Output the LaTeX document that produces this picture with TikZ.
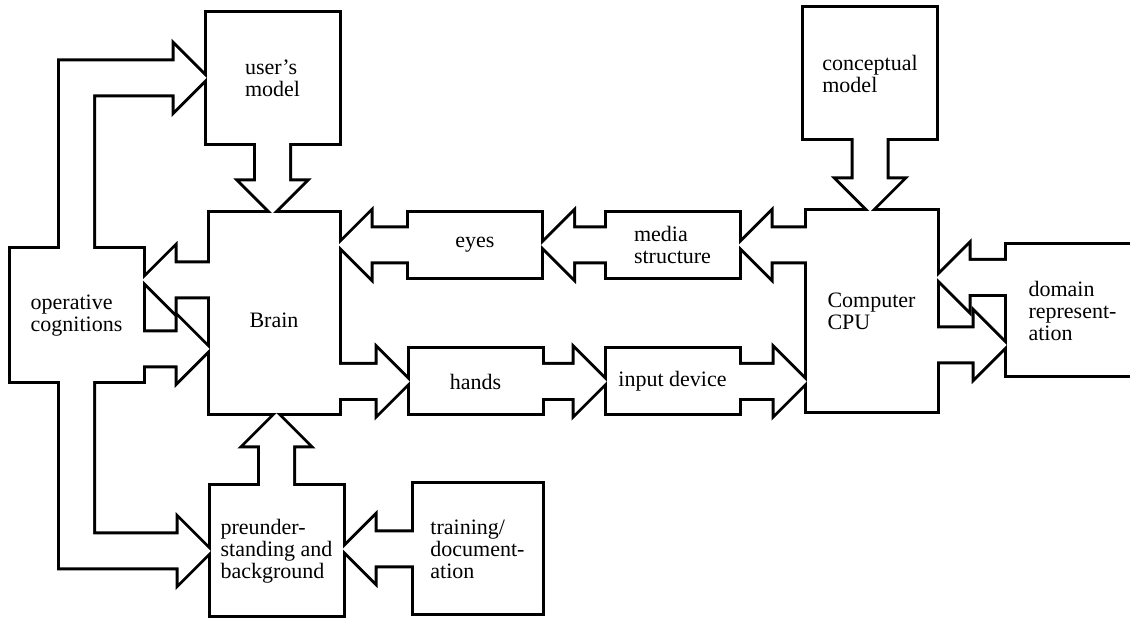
\documentclass[tikz,border=0pt]{standalone}
\usepackage{fontspec}
\setmainfont{Liberation Serif}
\usetikzlibrary{calc,backgrounds}

\newcommand\shaftw{8.25pt} % half width of a shaft
\newcommand\headw{16pt}    % half width of a head
\newcommand\headl{16pt}    % length of a head

% block arrows: tail, tip (the tail reaches a little into its box)
\newcommand\harrow[2]{let \p1=#1, \p2=#2, \p3=($#2!\headl!#1$), \p4=($#1!-2pt!#2$) in
  (\x4,\y1+\shaftw) -- (\x3,\y1+\shaftw) -- (\x3,\y1+\headw) -- (\x2,\y1)
  -- (\x3,\y1-\headw) -- (\x3,\y1-\shaftw) -- (\x4,\y1-\shaftw) -- cycle}
\newcommand\varrow[2]{let \p1=#1, \p2=#2, \p3=($#2!\headl!#1$), \p4=($#1!-2pt!#2$) in
  (\x1+\shaftw,\y4) -- (\x1+\shaftw,\y3) -- (\x1+\headw,\y3) -- (\x1,\y2)
  -- (\x1-\headw,\y3) -- (\x1-\shaftw,\y3) -- (\x1-\shaftw,\y4) -- cycle}

% every box and arrow, drawn twice so the outline is the union
\newcommand\allparts[1]{%
  \foreach \b in {user,concept,ops,brain,eyes,media,cpu,domain,hands,input,preund,training}
    \path[#1] (\b.north west) rectangle (\b.south east);
  \path[#1] \varrow{(user.south)}{(user.south |- brain.north)};
  \path[#1] \varrow{(concept.south)}{(concept.south |- cpu.north)};
  \path[#1] \varrow{(preund.north)}{(preund.north |- brain.south)};
  \path[#1] \harrow{(training.west)}{(training.west -| preund.east)};
  \path[#1] \harrow{(eyes.west)}{(eyes.west -| brain.east)};
  \path[#1] \harrow{(media.west)}{(eyes.east)};
  \path[#1] \harrow{(media.east -| cpu.west)}{(media.east)};
  \path[#1] \harrow{(brain.east |- hands.west)}{(hands.west)};
  \path[#1] \harrow{(hands.east)}{(input.west)};
  \path[#1] \harrow{(input.east)}{(input.east -| cpu.west)};
  \path[#1] \harrow{(bo)}{(bo -| ops.east)};
  \path[#1] \harrow{(ob -| ops.east)}{(ob)};
  \path[#1] \harrow{(dc)}{(dc -| cpu.east)};
  \path[#1] \harrow{(cd -| cpu.east)}{(cd)};
  % bent arrows out of the operative cognitions
  \path[#1] let \p1=(user.west), \p2=(ops.north) in
    (\x2-\shaftw,\y2-2pt) -- (\x2-\shaftw,\y1+\shaftw) -- (\x1-\headl,\y1+\shaftw)
    -- (\x1-\headl,\y1+\headw) -- (\x1,\y1) -- (\x1-\headl,\y1-\headw)
    -- (\x1-\headl,\y1-\shaftw) -- (\x2+\shaftw,\y1-\shaftw) -- (\x2+\shaftw,\y2-2pt) -- cycle;
  \path[#1] let \p1=(preund.west), \p2=(ops.south) in
    (\x2-\shaftw,\y2+2pt) -- (\x2-\shaftw,\y1-\shaftw) -- (\x1-\headl,\y1-\shaftw)
    -- (\x1-\headl,\y1-\headw) -- (\x1,\y1) -- (\x1-\headl,\y1+\headw)
    -- (\x1-\headl,\y1+\shaftw) -- (\x2+\shaftw,\y1+\shaftw) -- (\x2+\shaftw,\y2+2pt) -- cycle;
}

\begin{document}
\begin{tikzpicture}[x=0.5pt, y=-0.5pt,
  box/.style={inner sep=0pt, outer sep=0pt, align=left,
    minimum width=66pt, minimum height=65pt,
    font=\fontsize{11}{11}\selectfont},
  wide/.style={minimum height=100pt},
  flat/.style={minimum height=32pt}]
\useasboundingbox (0,0) rectangle (1130,619);

\node[box] (user) at (272.5,78) {user’s\\model};
\node[box] (concept) at (870,73.5) {conceptual\\model};
\node[box, minimum height=66pt] (ops) at (76.5,315.5) {operative\\cognitions};
\node[box, wide, minimum width=64.5pt] (brain) at (274,313.5) {\raisebox{-7pt}[0pt][0pt]{Brain}};
\node[box, wide, minimum width=65pt] (cpu) at (871.5,311.5) {Computer\\CPU};
\node[box] (domain) at (1072.5,310.5) {domain\\represent-\\ation};
\node[box, flat] (eyes) at (475,245) {eyes};
\node[box, flat] (media) at (672.5,245) {media\\structure};
\node[box, flat] (hands) at (475.5,381.5) {hands};
\node[box, flat] (input) at (672.5,381.5) {input device};
\node[box, minimum height=64.5pt] (preund) at (276.5,551) {preunder-\\standing and\\background};
\node[box, minimum width=64pt, minimum height=64.5pt] (training) at (477.5,549) {training/\\document-\\ation};

\coordinate (bo) at ([yshift=16.75pt]brain.west);
\coordinate (ob) at ([yshift=-17.75pt]brain.west);
\coordinate (dc) at ([yshift=16.5pt]domain.west);
\coordinate (cd) at ([yshift=-17.25pt]domain.west);

\begin{scope}[on background layer]
  \fill[white] (0,0) rectangle (1130,619);
  \clip (0,0) rectangle (1130,619);
  \allparts{draw, line width=3pt}
  \allparts{fill=white}
\end{scope}
\end{tikzpicture}
\end{document}
